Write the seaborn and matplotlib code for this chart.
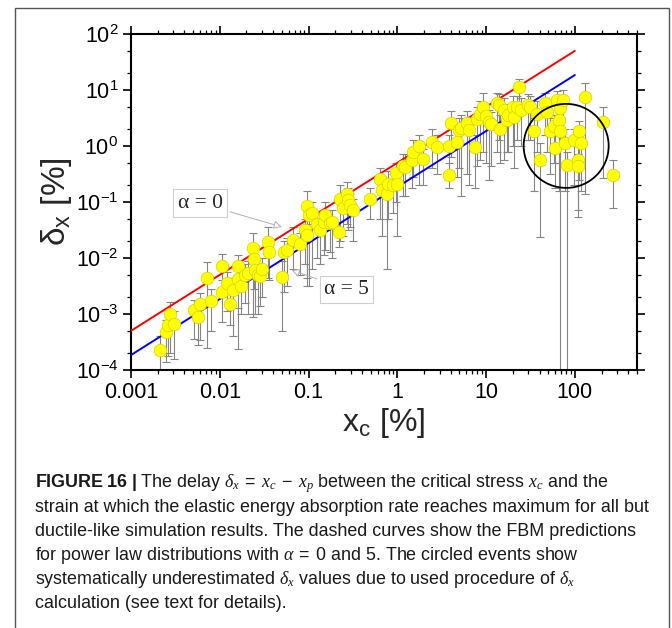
import numpy as np
import pandas as pd
import matplotlib
matplotlib.use("Agg")
import matplotlib.pyplot as plt
import seaborn as sns
from matplotlib.patches import Ellipse, Rectangle
from matplotlib.ticker import LogLocator, FixedLocator, FixedFormatter, NullFormatter

# ---- data (log10 of percent values) ----
xc_log10 = [-2.67, -2.61, -2.58, -2.56, -2.51, -2.29, -2.25, -2.22, -2.14, -2.10,
            -1.98, -1.97, -1.92, -1.89, -1.85, -1.80, -1.80, -1.76, -1.72, -1.68,
            -1.63, -1.61, -1.60, -1.57, -1.55, -1.52, -1.46, -1.45, -1.30, -1.28,
            -1.24, -1.17, -1.10, -1.04, -1.02, -1.00, -1.02, -0.96, -0.90, -0.87,
            -0.83, -0.81, -0.76, -0.74, -0.66, -0.65, -0.61, -0.57, -0.56, -0.53,
            -0.50, -0.31, -0.19, -0.17, -0.12, -0.11, -0.05, -0.02, 0.00, 0.06,
            0.09, 0.16, 0.18, 0.24, 0.29, 0.39, 0.45, 0.58, 0.58, 0.60,
            0.67, 0.70, 0.72, 0.78, 0.81, 0.87, 0.90, 0.93, 0.97, 1.00,
            1.03, 1.06, 1.12, 1.15, 1.16, 1.20, 1.24, 1.25, 1.30, 1.32,
            1.35, 1.37, 1.39, 1.47, 1.50, 1.54, 1.57, 1.61, 1.66, 1.69,
            1.72, 1.76, 1.78, 1.80, 1.82, 1.83, 1.83, 1.87, 1.89, 1.91,
            1.99, 2.04, 2.04, 2.05, 2.07, 2.11, 2.32, 2.43]
dx_log10 = [-3.65, -3.33, -3.20, -3.00, -3.18, -2.93, -3.06, -2.82, -2.35, -2.76,
            -2.14, -2.60, -2.45, -2.82, -2.57, -2.15, -2.38, -2.50, -2.30, -2.27,
            -1.83, -2.02, -2.21, -2.30, -2.33, -2.20, -1.71, -1.89, -2.34, -1.89,
            -1.86, -1.68, -1.75, -1.50, -1.07, -1.23, -1.59, -1.20, -1.40, -1.50,
            -1.35, -1.23, -1.38, -1.35, -1.53, -0.95, -1.11, -0.85, -0.96, -1.05,
            -1.14, -0.95, -0.59, -0.78, -0.85, -0.67, -0.70, -0.49, -0.67, -0.36,
            -0.37, -0.25, -0.10, 0.00, -0.24, 0.08, -0.02, -0.52, 0.00, 0.41,
            0.08, 0.29, 0.32, 0.41, 0.29, -0.02, 0.49, 0.58, 0.70, 0.54,
            0.43, 0.40, 0.76, 0.73, 0.31, 0.64, 0.46, 0.55, 0.70, 0.52,
            0.70, 1.05, 0.64, 0.73, 0.70, 0.26, 0.58, -0.25, 0.76, 0.61,
            0.26, 0.35, -0.04, 0.83, 0.46, 0.67, 0.27, 0.83, 0.05, -0.34,
            0.11, -0.25, -0.36, 0.26, 0.06, 0.87, 0.43, -0.52]
err_low_log10 = [-4.30, -3.85, -3.75, -3.70, -3.80, -3.45, -3.55, -3.46, -3.61, -3.30,
                 -2.65, -3.15, -2.95, -3.20, -3.40, -3.63, -2.90, -3.00, -2.80, -3.00,
                 -3.05, -2.55, -3.00, -3.00, -2.85, -2.70, -2.35, -2.40, -3.30, -2.60,
                 -2.50, -2.20, -2.30, -2.10, -2.50, -2.50, -2.35, -2.20, -2.00, -2.10,
                 -1.95, -1.85, -1.90, -2.00, -1.80, -1.70, -1.60, -1.40, -1.50, -1.45,
                 -1.70, -1.30, -1.30, -1.60, -2.20, -1.30, -1.20, -1.00, -1.60, -0.90,
                 -0.90, -0.75, -0.55, -0.70, -0.70, -0.40, -0.50, -0.75, -0.45, -0.20,
                 -0.55, -0.40, -0.90, -0.50, -0.70, -0.75, -0.35, -0.25, -0.10, -0.30,
                 -0.60, -0.35, -0.10, 0.10, -0.30, -0.25, -0.10, -0.10, 0.00, -0.40,
                 0.10, 0.55, 0.00, 0.10, 0.10, -0.80, -0.10, -1.62, 0.20, -0.10,
                 -0.50, -0.30, -0.75, 0.20, -0.80, -0.30, -4.50, 0.10, -0.80, -4.50,
                 -0.70, -1.26, -1.15, -0.60, -0.80, -0.85, -0.58, -1.11]
err_high_log10 = [-3.40, -3.10, -2.95, -2.78, -2.95, -2.75, -2.85, -2.62, -2.07, -2.55,
                  -1.92, -2.40, -2.25, -2.60, -2.35, -1.95, -2.18, -2.30, -2.10, -2.05,
                  -1.55, -1.80, -2.00, -2.10, -2.10, -2.00, -1.45, -1.70, -2.05, -1.70,
                  -1.65, -1.45, -1.55, -1.30, -0.80, -1.00, -1.40, -1.00, -1.20, -1.30,
                  -1.15, -1.00, -1.15, -1.15, -1.35, -0.70, -0.90, -0.65, -0.75, -0.85,
                  -0.95, -0.75, -0.40, -0.55, -0.60, -0.45, -0.50, -0.30, -0.45, -0.15,
                  -0.15, -0.05, 0.10, 0.20, -0.05, 0.30, 0.20, -0.30, 0.20, 0.62,
                  0.30, 0.50, 0.55, 0.62, 0.50, 0.20, 0.70, 0.80, 0.95, 0.75,
                  0.65, 0.60, 0.95, 0.92, 0.55, 0.85, 0.70, 0.75, 0.90, 0.75,
                  0.90, 1.20, 0.85, 0.92, 0.90, 0.50, 0.80, 0.05, 0.95, 0.80,
                  0.50, 0.55, 0.20, 0.98, 0.70, 0.85, 0.50, 1.00, 0.30, -0.10,
                  0.30, 0.00, -0.15, 0.45, 0.30, 1.13, 0.70, -0.25]

fbm_xc = [0.001, 100.0]
fbm_alpha0 = [5.0e-4, 50.0]
fbm_alpha5 = [1.85e-4, 18.5]

x_ticks = [0.001, 0.01, 0.1, 1, 10, 100]
x_tick_labels = ["0.001", "0.01", "0.1", "1", "10", "100"]

caption_lines = [
    r"$\mathbf{FIGURE\ 16\ |}$ The delay $\delta_x\;=\;x_c\;-\;x_p$ between the critical stress $x_c$ and the",
    "strain at which the elastic energy absorption rate reaches maximum for all but",
    "ductile-like simulation results. The dashed curves show the FBM predictions",
    r"for power law distributions with $\alpha\;=\;\mathregular{0}$ and 5. The circled events show",
    r"systematically underestimated $\delta_x$ values due to used procedure of $\delta_x$",
    "calculation (see text for details).",
]

# ---- style ----
sns.set_theme(style="ticks")
plt.rcParams["font.family"] = ["Liberation Sans", "DejaVu Sans"]
plt.rcParams["mathtext.fontset"] = "custom"
plt.rcParams["mathtext.rm"] = "Liberation Sans"
plt.rcParams["mathtext.it"] = "Liberation Serif:italic"
plt.rcParams["mathtext.bf"] = "Liberation Sans:bold"

df = pd.DataFrame({
    "xc": 10 ** np.array(xc_log10),
    "dx": 10 ** np.array(dx_log10),
    "lo": 10 ** np.array(err_low_log10),
    "hi": 10 ** np.array(err_high_log10),
})
lines_df = pd.DataFrame({
    "xc": fbm_xc * 2,
    "dx": fbm_alpha0 + fbm_alpha5,
    "alpha": ["0", "0", "5", "5"],
})

fig = plt.figure(figsize=(6.72, 6.28), dpi=100)
ax = fig.add_axes([131 / 672, 1 - 370 / 628, 506 / 672, 336 / 628])
ax.set_xscale("log")
ax.set_yscale("log")

ax.errorbar(df["xc"], df["dx"], yerr=[df["dx"] - df["lo"], df["hi"] - df["dx"]],
            fmt="none", ecolor="#858585", elinewidth=0.8, capsize=3, capthick=0.8, zorder=2)
sns.lineplot(data=lines_df, x="xc", y="dx", hue="alpha", palette=["#ff0000", "#0000ff"],
             linewidth=1.4, legend=False, ax=ax, zorder=3)
sns.scatterplot(data=df, x="xc", y="dx", s=82, color="#ffff00", edgecolor="#d6d200",
                linewidth=0.5, ax=ax, zorder=4)

ax.set_xlim(0.001, 10 ** 2.7)
ax.set_ylim(1e-4, 1e2)

ax.xaxis.set_major_locator(FixedLocator(x_ticks))
ax.xaxis.set_major_formatter(FixedFormatter(x_tick_labels))
ax.xaxis.set_minor_locator(LogLocator(base=10, subs=range(2, 10), numticks=30))
ax.xaxis.set_minor_formatter(NullFormatter())
ax.yaxis.set_major_locator(LogLocator(base=10, numticks=20))
ax.yaxis.set_minor_locator(LogLocator(base=10, subs=[2, 5], numticks=30))
ax.yaxis.set_minor_formatter(NullFormatter())

for s in ax.spines.values():
    s.set_linewidth(1.5)
    s.set_color("black")
ax.tick_params(which="both", direction="out", top=True, right=True, colors="black")
ax.tick_params(which="major", length=6, width=1.2, labelsize=15.5, pad=3)
ax.tick_params(which="minor", length=3, width=0.9)

ax.set_xlabel(r"$\mathregular{x_c}$ [%]", fontsize=23, labelpad=2)
ax.set_ylabel(r"$\mathregular{δ_x}$ [%]", fontsize=24, labelpad=1)

# circle around underestimated events
ax.add_patch(Ellipse((0.86, 0.667), 0.168, 0.25, transform=ax.transAxes,
                     fill=False, edgecolor="black", linewidth=1.3, zorder=5))

# annotations
box = dict(boxstyle="square,pad=0.2", fc="white", ec="#cfcfcf", lw=0.8)
arrow = dict(arrowstyle="-|>", color="#b0b0b0", lw=0.7, fc="white", mutation_scale=12)
ax.annotate(r"α = 0", xy=(10 ** -1.27, 10 ** -1.46), xytext=(10 ** -2.22, 10 ** -1.02),
            fontsize=15.5, family="Liberation Serif", ha="center", va="center",
            bbox=box, arrowprops=arrow, zorder=6)
ax.annotate(r"α = 5", xy=(10 ** -1.22, 10 ** -2.20), xytext=(10 ** -0.57, 10 ** -2.56),
            fontsize=15.5, family="Liberation Serif", ha="center", va="center",
            bbox=box, arrowprops=arrow, zorder=6)

# frame around figure
fig.patches.append(Rectangle((15 / 672, -0.05), (669 - 15) / 672, 1.05 - 8 / 628,
                             transform=fig.transFigure, fill=False,
                             edgecolor="#555555", linewidth=1.0))

# caption
ys = [484, 508, 531, 555, 579, 603]
for txt, y in zip(caption_lines, ys):
    fig.text(35 / 672, 1 - y / 628, txt, fontsize=12.9, ha="left", va="center",
             color="#1a1a1a")

fig.savefig("out.png", dpi=100)
